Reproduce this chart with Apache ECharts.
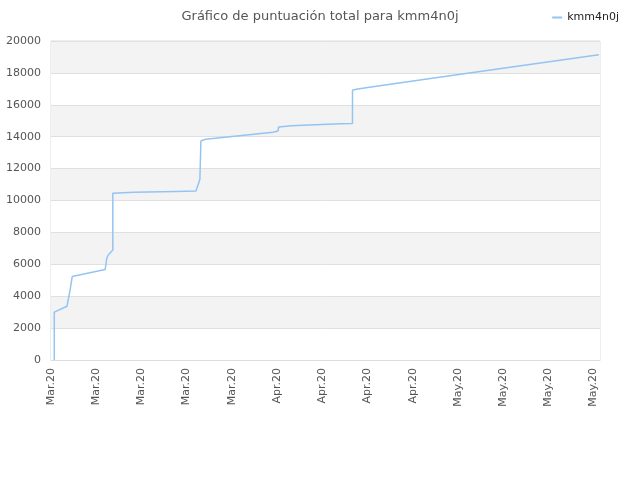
<!DOCTYPE html>
<html>
<head>
<meta charset="utf-8">
<script src="https://cdn.jsdelivr.net/npm/echarts@6/dist/echarts.min.js"></script>
<style>html,body{margin:0;padding:0;background:#fff}#c{width:640px;height:480px}</style>
</head>
<body>
<div id="c"></div>
<script>
// x: days since 3 Mar 2020; y: total score
var days = [0.51, 0.51, 2.47, 2.87, 3.29, 8.38, 8.65, 8.89, 9.57, 9.57, 12.86, 19.35, 22.44, 23.05, 23.21, 23.21, 23.93, 34.37, 35.15, 35.25, 37.21, 40.97, 44.83, 46.68, 46.68, 47.25, 49.3, 60.11, 84.82];
var scores = [0, 3000, 3370, 4190, 5230, 5670, 6410, 6600, 6890, 10450, 10520, 10570, 10590, 11320, 11380, 13730, 13840, 14275, 14360, 14610, 14690, 14750, 14810, 14830, 16910, 16970, 17100, 17720, 19140];
var tickLabels = ['Mar.20','Mar.20','Mar.20','Mar.20','Mar.20','Apr.20','Apr.20','Apr.20','Apr.20','May.20','May.20','May.20','May.20'];
var seriesName = 'kmm4n0j';

var data = days.map(function (d, i) { return [d, scores[i]]; });
var chart = echarts.init(document.getElementById('c'));
chart.setOption({
  animation: false,
  backgroundColor: '#fff',
  title: {
    text: 'Gráfico de puntuación total para kmm4n0j',
    left: 'center', top: 5,
    textStyle: { fontSize: 13, fontWeight: 'normal', color: '#555', fontFamily: 'DejaVu Sans' }
  },
  legend: {
    right: 16, top: 7,
    itemWidth: 10, itemHeight: 2, icon: 'rect',
    textStyle: { fontSize: 11, color: '#222', fontFamily: 'DejaVu Sans' },
    data: [seriesName]
  },
  grid: { left: 51, right: 40, top: 41, bottom: 120, show: true, borderColor: '#ddd', borderWidth: 1, backgroundColor: 'transparent' },
  xAxis: {
    type: 'value', min: 0, max: 85, interval: 7,
    axisLine: { show: true, lineStyle: { color: '#ddd' } },
    axisTick: { show: false },
    splitLine: { show: false },
    axisLabel: {
      rotate: 90, fontSize: 11, color: '#555', fontFamily: 'DejaVu Sans', margin: 8,
      formatter: function (v) {
        var k = v / 7;
        return (Math.abs(k - Math.round(k)) < 1e-6 && tickLabels[Math.round(k)]) ? tickLabels[Math.round(k)] : '';
      }
    }
  },
  yAxis: {
    type: 'value', min: 0, max: 20000, interval: 2000,
    axisLine: { show: false },
    axisTick: { show: false },
    splitLine: { show: true, lineStyle: { color: '#e0e0e0' } },
    splitArea: { show: true, areaStyle: { color: ['#ffffff', '#f3f3f3'] } },
    axisLabel: { fontSize: 11, color: '#555', fontFamily: 'DejaVu Sans', margin: 10, formatter: function (v) { return String(v); } }
  },
  series: [{
    name: seriesName, type: 'line', data: data,
    showSymbol: false, symbol: 'none',
    lineStyle: { color: '#94c4f2', width: 1.5 },
    itemStyle: { color: '#94c4f2' }
  }]
});
</script>
</body>
</html>
